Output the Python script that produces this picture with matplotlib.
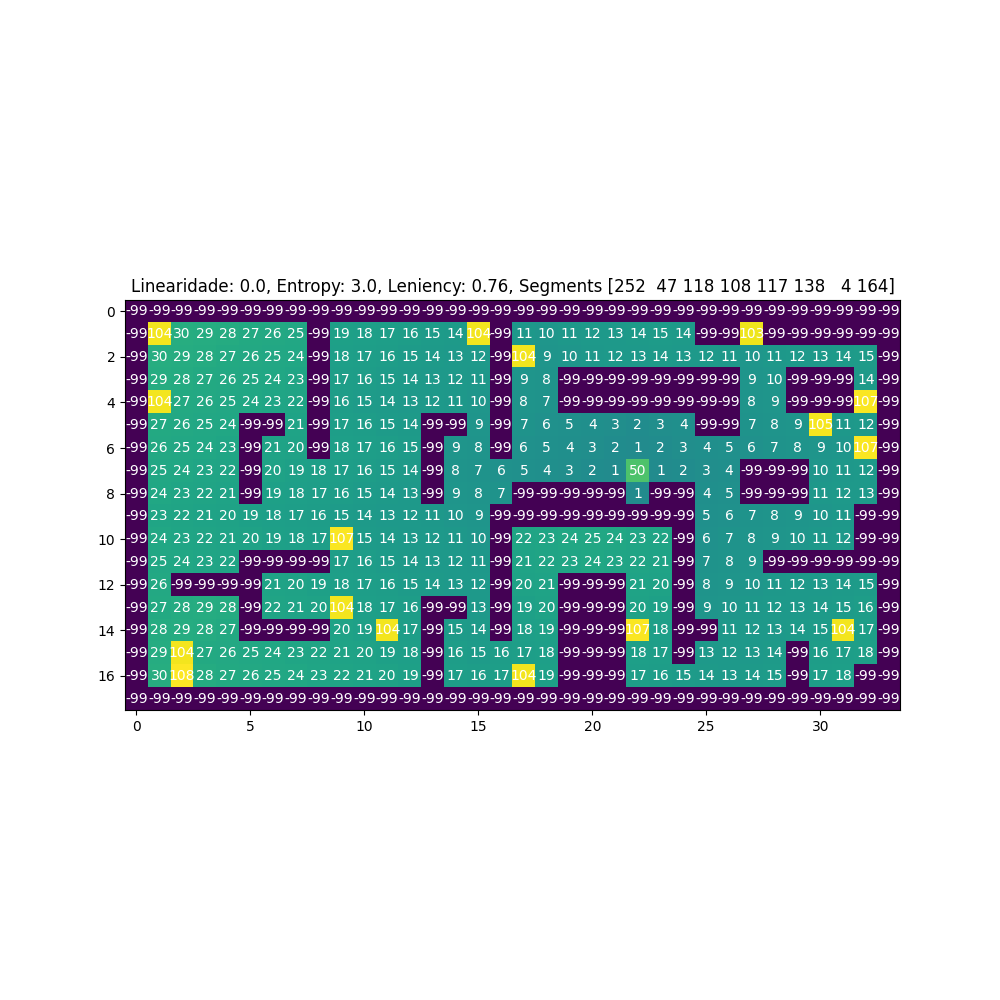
import numpy as np
import matplotlib
matplotlib.use('Agg')
import matplotlib.pyplot as plt

W = -99

row0 = [W]*34
row1 = [W,104,30,29,28,27,26,25,W,19,18,17,16,15,14,104,W, 11,10,11,12,13,14,15,14,W,W,103,W,W,W,W,W,W]
row2 = [W,30,29,28,27,26,25,24,W,18,17,16,15,14,13,12,W, 104,9,10,11,12,13,14,13,12,11,10,11,12,13,14,15,W]
row3 = [W,29,28,27,26,25,24,23,W,17,16,15,14,13,12,11,W, 9,8,W,W,W,W,W,W,W,W,9,10,W,W,W,14,W]
row4 = [W,104,27,26,25,24,23,22,W,16,15,14,13,12,11,10,W, 8,7,W,W,W,W,W,W,W,W,8,9,W,W,W,107,W]
row5 = [W,27,26,25,24,W,W,21,W,17,16,15,14,W,W,9,W, 7,6,5,4,3,2,3,4,W,W,7,8,9,105,11,12,W]
row6 = [W,26,25,24,23,W,21,20,W,18,17,16,15,W,9,8,W, 6,5,4,3,2,1,2,3,4,5,6,7,8,9,10,107,W]
row7 = [W,25,24,23,22,W,20,19,18,17,16,15,14,W,8,7,6, 5,4,3,2,1,50,1,2,3,4,W,W,W,10,11,12,W]
row8 = [W,24,23,22,21,W,19,18,17,16,15,14,13,W,9,8,7, W,W,W,W,W,1,W,W,4,5,W,W,W,11,12,13,W]
row9 = [W,23,22,21,20,19,18,17,16,15,14,13,12,11,10,9,W, W,W,W,W,W,W,W,W,5,6,7,8,9,10,11,W,W]
row10 = [W,24,23,22,21,20,19,18,17,107,15,14,13,12,11,10,W, 22,23,24,25,24,23,22,W,6,7,8,9,10,11,12,W,W]
row11 = [W,25,24,23,22,W,W,W,W,17,16,15,14,13,12,11,W, 21,22,23,24,23,22,21,W,7,8,9,W,W,W,W,W,W]
row12 = [W,26,W,W,W,W,21,20,19,18,17,16,15,14,13,12,W, 20,21,W,W,W,21,20,W,8,9,10,11,12,13,14,15,W]
row13 = [W,27,28,29,28,W,22,21,20,104,18,17,16,W,W,13,W, 19,20,W,W,W,20,19,W,9,10,11,12,13,14,15,16,W]
row14 = [W,28,29,28,27,W,W,W,W,20,19,104,17,W,15,14,W, 18,19,W,W,W,107,18,W,W,11,12,13,14,15,104,17,W]
row15 = [W,29,104,27,26,25,24,23,22,21,20,19,18,W,16,15,16, 17,18,W,W,W,18,17,W,13,12,13,14,W,16,17,18,W]
row16 = [W,30,108,28,27,26,25,24,23,22,21,20,19,W,17,16,17, 104,19,W,W,W,17,16,15,14,13,14,15,W,17,18,W,W]
row17 = [W]*34

grid = np.array([row0,row1,row2,row3,row4,row5,row6,row7,row8,row9,
                 row10,row11,row12,row13,row14,row15,row16,row17])

title = 'Linearidade: 0.0, Entropy: 3.0, Leniency: 0.76, Segments [252  47 118 108 117 138   4 164]'

fig = plt.figure(figsize=(10, 10))
ax = fig.add_subplot(111)
ax.imshow(grid, cmap='viridis')
for i in range(grid.shape[0]):
    for j in range(grid.shape[1]):
        ax.text(j, i, str(grid[i, j]), ha='center', va='center', color='w')
ax.set_title(title)
plt.savefig('out.png')
